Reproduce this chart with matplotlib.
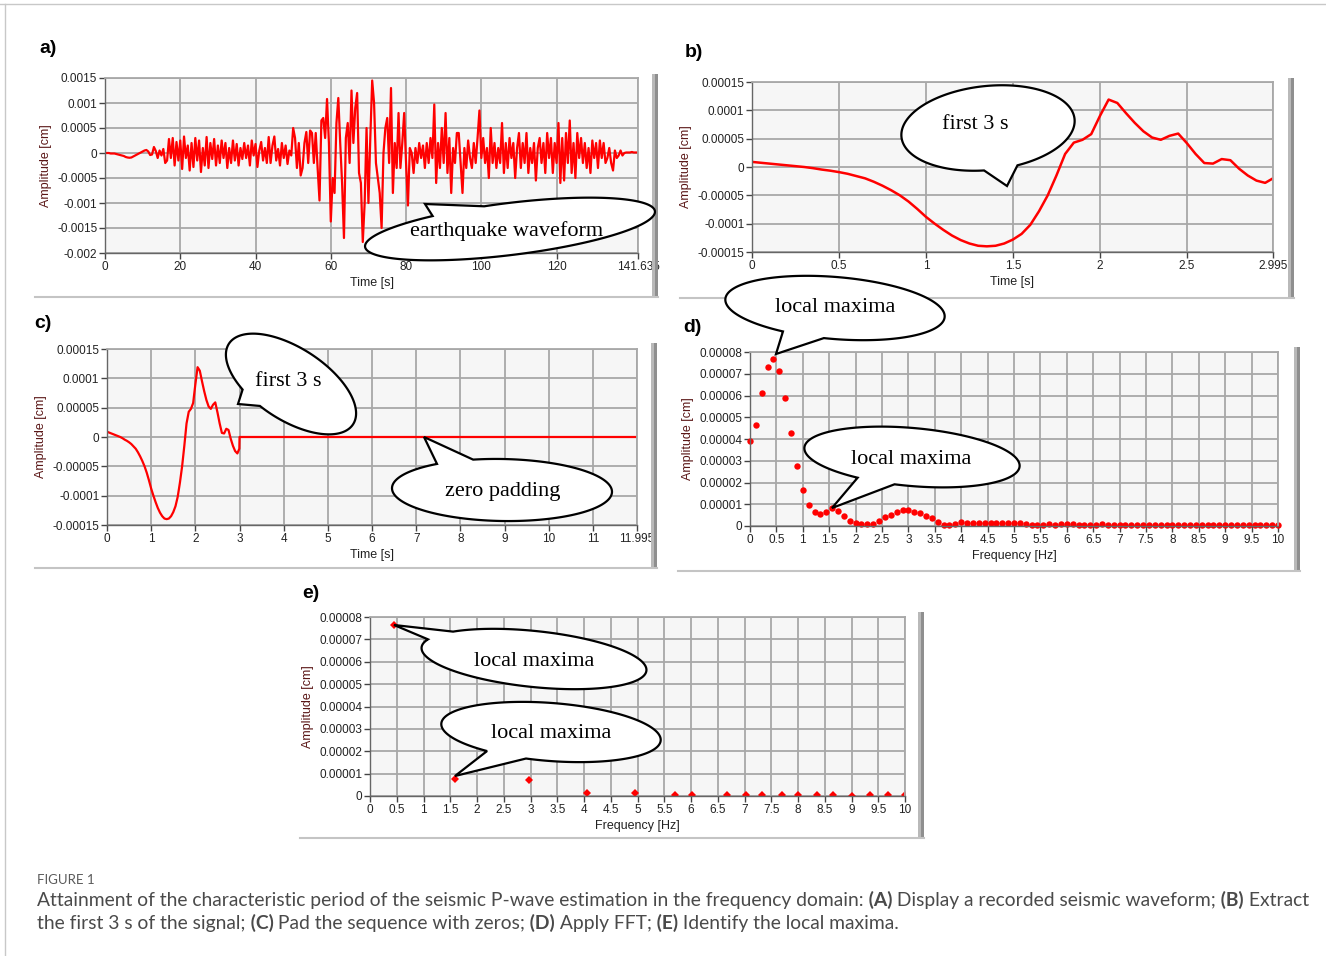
import numpy as np
import matplotlib
matplotlib.use("Agg")
import matplotlib.pyplot as plt
from matplotlib.patches import Polygon, Rectangle

W, H = 1326, 956

# ---- data ----
# a) recorded waveform, one value every 0.5 s, in 1e-4 cm
a_dt = 0.5
a_tmax = 141.635
a_amp = [
    0, 0, 0, -0.1, -0.1, -0.1, -0.2, -0.3, -0.4, -0.5,
    -0.6, -0.8, -0.9, -0.95, -0.9, -0.7, -0.5, -0.3, -0.1, 0.1,
    0.3, 0.5, 0.6, 0.3, -0.4, -0.3, 1.2, 0.4, -1.0, 0.5,
    -0.5, 0.8, -2.0, -1.5, 2.8, -1.0, 3.0, -2.5, 2.2, -1.5,
    2.5, -3.2, 3.3, -1.0, 1.5, -3.5, 2.0, -2.8, 3.0, -1.5,
    2.5, -3.8, 1.0, -2.5, 3.2, -3.0, 2.0, -1.2, 2.8, -2.5,
    1.5, -2.0, 2.5, -1.0, 2.0, -3.0, 1.0, -2.0, 2.5, -1.5,
    1.8, -2.5, 1.0, -1.2, 2.0, -1.0, 1.5, -2.5, 2.5, -0.5,
    1.8, -2.8, 0.5, 2.2, -1.5, 1.0, -2.0, 3.2, -2.0, 1.5,
    3.3, -1.5, 0.8, -2.5, 2.0, -1.0, 1.5, -2.2, 0.5, -0.5,
    5.0, 3.0, -3.0, 2.0, -4.5, -3.0, 2.0, 4.2, -2.0, 4.5,
    4.0, -2.0, 4.0, -3.0, -9.5, 6.5, 7.0, 3.0, 10.8, 2.0,
    -13.7, -5.0, -8.0, 6.0, 11.0, 2.0, -6.0, -17.0, 3.0, 6.0,
    -2.0, 12.5, 2.0, 9.0, 12.0, -4.0, -6.0, -17.8, -10.0, 5.0,
    -10.0, 3.0, 14.5, 10.0, -2.0, -5.0, -8.0, -15.0, 0.0, 5.0,
    7.0, -2.0, 13.0, -8.0, 2.0, -3.0, 8.0, -3.0, 2.0, 8.0,
    -2.0, -10.5, 1.0, 0.0, -4.0, 1.0, -2.0, 2.0, -1.0, 1.5,
    -3.0, 2.0, -2.0, 3.0, -1.0, 9.7, -6.0, 2.0, -3.0, 5.0,
    -2.0, 8.0, -4.0, 3.0, -8.0, 1.0, -2.0, 4.0, 4.0, -2.0,
    -8.0, 1.0, -3.0, 2.5, -1.0, -3.0, 2.0, -2.0, 3.0, 8.5,
    -1.0, 3.0, -2.0, 1.0, -5.0, 5.0, -2.0, 2.0, -3.0, 1.0,
    -2.0, 6.0, -4.0, 2.0, -3.0, 3.0, -1.0, 2.0, -5.0, 1.0,
    4.0, -3.0, 2.0, -2.0, 4.0, -4.0, 1.0, -2.0, 2.0, -5.5,
    1.0, 3.0, -2.0, 2.0, -4.0, 4.0, -1.0, 3.0, -4.0, 2.0,
    -2.0, 6.0, -6.0, 3.0, -5.5, 4.0, -2.0, 6.5, -4.0, 2.0,
    -5.0, 4.0, -1.0, 3.0, -2.0, 2.0, -3.0, 1.0, -4.0, 2.5,
    -1.0, 2.0, -3.0, 2.5, -1.0, 2.0, -2.0, -1.0, 1.0, -2.0,
    -3.5, 0.5, -1.0, -0.5, 0.5, -0.5, 0.0, 0.1, 0.1, 0.1,
    0.2, 0.1, 0.1, 0.1,
]
a_xticks = [0, 20, 40, 60, 80, 100, 120, 141.635]
a_xlabels = ['0', '20', '40', '60', '80', '100', '120', '141.635']
a_yticks = [0.0015, 0.001, 0.0005, 0, -0.0005, -0.001, -0.0015, -0.002]
a_ylabels = ['0.0015', '0.001', '0.0005', '0', '-0.0005', '-0.001', '-0.0015', '-0.002']

# b) first 3 s, in 1e-5 cm
b_time = [0.00, 0.05, 0.10, 0.15, 0.20, 0.25, 0.30, 0.35, 0.40, 0.45,
          0.50, 0.55, 0.60, 0.65, 0.70, 0.75, 0.80, 0.85, 0.90, 0.95,
          1.00, 1.05, 1.10, 1.15, 1.20, 1.25, 1.30, 1.35, 1.40, 1.45,
          1.50, 1.55, 1.60, 1.65, 1.70, 1.75, 1.80, 1.85, 1.90, 1.95,
          2.00, 2.05, 2.10, 2.15, 2.20, 2.25, 2.30, 2.35, 2.40, 2.45,
          2.50, 2.55, 2.60, 2.65, 2.70, 2.75, 2.80, 2.85, 2.90, 2.95, 2.995]
b_amp = [0.9, 0.75, 0.6, 0.45, 0.3, 0.15, 0.0, -0.2, -0.45, -0.65,
         -0.9, -1.2, -1.6, -2.0, -2.6, -3.3, -4.1, -5.0, -6.1, -7.4,
         -8.8, -10.0, -11.1, -12.1, -12.9, -13.5, -13.9, -14.0, -13.9, -13.5,
         -12.8, -11.8, -10.2, -7.8, -5.0, -1.5, 2.3, 4.3, 4.8, 5.8,
         9.0, 11.9, 11.3, 9.5, 7.8, 6.3, 5.2, 4.8, 5.5, 5.9,
         4.2, 2.3, 0.7, 0.6, 1.4, 1.2, -0.3, -1.5, -2.4, -2.8, -2.0]
b_xticks = [0, 0.5, 1, 1.5, 2, 2.5, 2.995]
b_xlabels = ['0', '0.5', '1', '1.5', '2', '2.5', '2.995']
bc_yticks = [0.00015, 0.0001, 0.00005, 0, -0.00005, -0.0001, -0.00015]
bc_ylabels = ['0.00015', '0.0001', '0.00005', '0', '-0.00005', '-0.0001', '-0.00015']

# c) zero padding after the first 3 s
c_pad_time = [3.0, 11.995]
c_pad_amp = [0.0, 0.0]
c_xticks = [0, 1, 2, 3, 4, 5, 6, 7, 8, 9, 10, 11, 11.995]
c_xlabels = ['0', '1', '2', '3', '4', '5', '6', '7', '8', '9', '10', '11', '11.995']

# d) FFT amplitude spectrum, in 1e-5 cm, bins of 1/9 Hz
d_df = 1 / 9
d_amp = [3.9, 4.63, 6.1, 7.31, 7.68, 7.13, 5.89, 4.27, 2.77, 1.65,
         0.98, 0.66, 0.55, 0.66, 0.81, 0.70, 0.47, 0.23, 0.12, 0.09,
         0.09, 0.10, 0.23, 0.43, 0.52, 0.64, 0.73, 0.75, 0.66, 0.60,
         0.47, 0.35, 0.17, 0.06, 0.06, 0.09, 0.17, 0.14, 0.13, 0.13,
         0.12, 0.12, 0.13, 0.15, 0.16, 0.16, 0.12, 0.07, 0.05, 0.05,
         0.06, 0.08, 0.06, 0.07, 0.09, 0.07, 0.05, 0.05, 0.05, 0.06,
         0.08, 0.06, 0.05, 0.05, 0.04, 0.04, 0.05, 0.04, 0.04, 0.05,
         0.05, 0.04, 0.05, 0.04, 0.04, 0.05, 0.04, 0.04, 0.05, 0.03,
         0.03, 0.03, 0.03, 0.04, 0.04, 0.03, 0.03, 0.04, 0.03, 0.03, 0.03]
de_xticks = [0, 0.5, 1, 1.5, 2, 2.5, 3, 3.5, 4, 4.5, 5, 5.5, 6, 6.5, 7, 7.5,
             8, 8.5, 9, 9.5, 10]
de_xlabels = ['0', '0.5', '1', '1.5', '2', '2.5', '3', '3.5', '4', '4.5', '5',
              '5.5', '6', '6.5', '7', '7.5', '8', '8.5', '9', '9.5', '10']
de_yticks = [0.00008, 0.00007, 0.00006, 0.00005, 0.00004, 0.00003, 0.00002, 0.00001, 0]
de_ylabels = ['0.00008', '0.00007', '0.00006', '0.00005', '0.00004', '0.00003',
              '0.00002', '0.00001', '0']

# e) local maxima, in 1e-5 cm
e_freq = [0.45, 1.58, 2.97, 4.05, 4.95, 5.7, 6.02, 6.68, 7.02, 7.32, 7.7, 8.0,
          8.35, 8.65, 9.0, 9.35, 9.68, 10.0]
e_amp = [7.65, 0.75, 0.70, 0.15, 0.15, 0.06, 0.06, 0.06, 0.03, 0.03, 0.03,
         0.03, 0.03, 0.03, 0.02, 0.03, 0.03, 0.03]

RED = '#ff0000'
plt.rcParams['font.family'] = ['Liberation Sans Narrow', 'Liberation Sans', 'DejaVu Sans']
SERIF = ['Liberation Serif', 'DejaVu Serif']
CAP = ['Lato', 'Open Sans', 'DejaVu Sans']

fig = plt.figure(figsize=(W / 100, H / 100), dpi=100)
fig.patch.set_facecolor('white')


def px_axes(left, top, right, bottom):
    return fig.add_axes([left / W, 1 - bottom / H, (right - left) / W, (bottom - top) / H])


def style(ax, xt, xl, yt, yl, xlabel):
    ax.set_facecolor('#f6f6f6')
    ax.set_xticks(xt)
    ax.set_xticklabels(xl)
    ax.set_yticks(yt)
    ax.set_yticklabels(yl)
    ax.grid(True, color='#a8a8a8', lw=1.3)
    ax.set_axisbelow(True)
    for s in ['top', 'right']:
        ax.spines[s].set_color('#a8a8a8')
        ax.spines[s].set_linewidth(1.3)
    for s in ['left', 'bottom']:
        ax.spines[s].set_color('#666666')
        ax.spines[s].set_linewidth(1.0)
    ax.tick_params(length=4, width=1, color='#444444', labelcolor='#222222',
                   labelsize=8.5, pad=1.5)
    ax.set_xlabel(xlabel, fontsize=9, color='#222222', labelpad=3)
    ax.set_ylabel('Amplitude [cm]', fontsize=9, color='#5a1616', labelpad=4)


# a)
ax_a = px_axes(105, 78, 638, 253)
a_time = np.arange(len(a_amp)) * a_dt
ax_a.plot(a_time, np.array(a_amp) * 1e-4, color=RED, lw=1.6)
ax_a.set_xlim(0, a_tmax)
ax_a.set_ylim(-0.002, 0.0015)
style(ax_a, a_xticks, a_xlabels, a_yticks, a_ylabels, 'Time [s]')

# b)
ax_b = px_axes(752, 82, 1273, 252)
ax_b.plot(b_time, np.array(b_amp) * 1e-5, color=RED, lw=1.8)
ax_b.set_xlim(0, 2.995)
ax_b.set_ylim(-0.00015, 0.00015)
style(ax_b, b_xticks, b_xlabels, bc_yticks, bc_ylabels, 'Time [s]')

# c)
ax_c = px_axes(107, 349, 637, 525)
c_time = list(b_time) + c_pad_time
c_amp = list(b_amp) + c_pad_amp
ax_c.plot(c_time, np.array(c_amp) * 1e-5, color=RED, lw=1.6)
ax_c.set_xlim(0, 11.995)
ax_c.set_ylim(-0.00015, 0.00015)
style(ax_c, c_xticks, c_xlabels, bc_yticks, bc_ylabels, 'Time [s]')

# d)
ax_d = px_axes(750, 352, 1278, 526)
d_freq = np.arange(len(d_amp)) * d_df
ax_d.plot(d_freq, np.array(d_amp) * 1e-5, 'o', color=RED, ms=4.6, mew=0, clip_on=False)
ax_d.set_xlim(0, 10)
ax_d.set_ylim(0, 0.00008)
style(ax_d, de_xticks, de_xlabels, de_yticks, de_ylabels, 'Frequency [Hz]')

# e)
ax_e = px_axes(370, 617, 905, 796)
ax_e.plot(e_freq, np.array(e_amp) * 1e-5, 'D', color=RED, ms=4.2, mew=0)
ax_e.set_xlim(0, 10)
ax_e.set_ylim(0, 0.00008)
style(ax_e, de_xticks, de_xlabels, de_yticks, de_ylabels, 'Frequency [Hz]')

# overlay in pixel coordinates for frames, bubbles and labels
ov = fig.add_axes([0, 0, 1, 1], zorder=10)
ov.set_xlim(0, W)
ov.set_ylim(H, 0)
ov.axis('off')

# page frame
ov.plot([0, W], [4, 4], color='#c8c8c8', lw=1)
ov.plot([5, 5], [4, H], color='#c8c8c8', lw=1)

# grey side bars and bottom rules of each panel
for x0, y0, y1, bx0 in [(652, 74, 297, 35), (1288, 78, 298, 680), (651, 343, 568, 35),
                        (1294, 347, 571, 678), (918, 612, 838, 300)]:
    ov.add_patch(Rectangle((x0, y0), 3, y1 - y0, fc='#b9b9b9', ec='none'))
    ov.add_patch(Rectangle((x0 + 3, y0), 3, y1 - y0, fc='#8f8f8f', ec='none'))
    ov.plot([bx0, x0 + 6], [y1, y1], color='#c4c4c4', lw=1.5)


def bubble(cx, cy, a, b, ang, tip, base1, base2, text, tx=None, ty=None, fs=16):
    th = np.deg2rad(ang)
    t = np.linspace(0, 2 * np.pi, 721)[:-1]
    ex = cx + a * np.cos(t) * np.cos(th) - b * np.sin(t) * np.sin(th)
    ey = cy + a * np.cos(t) * np.sin(th) + b * np.sin(t) * np.cos(th)
    n = len(t)
    i1 = int(np.argmin(np.hypot(ex - base1[0], ey - base1[1])))
    i2 = int(np.argmin(np.hypot(ex - base2[0], ey - base2[1])))
    if (i2 - i1) % n < n / 2:
        idx = [(i2 + k) % n for k in range((i1 - i2) % n + 1)]
    else:
        idx = [(i1 + k) % n for k in range((i2 - i1) % n + 1)]
    pts = [tip] + list(zip(ex[idx], ey[idx]))
    ov.add_patch(Polygon(pts, closed=True, fc='white', ec='black', lw=1.6, zorder=5))
    ov.text(cx if tx is None else tx, cy if ty is None else ty, text, ha='center',
            va='center', family=SERIF, fontsize=fs, zorder=6)


bubble(510, 229, 146, 26, -7, (425, 204), (433, 219), (484, 206), 'earthquake waveform',
       tx=507, ty=231)
bubble(988, 128, 87, 42, -6, (1007, 186), (984, 171), (1017, 163), 'first 3 s',
       tx=975, ty=124)
bubble(835, 308, 110, 31, 4.7, (776, 354), (784, 326), (824, 335), 'local maxima')
bubble(912, 457, 108, 29, 5, (832, 508), (858, 475), (895, 482), 'local maxima',
       tx=911, ty=459)
bubble(291, 384, 74, 36, 33, (238, 404), (242, 390), (258, 408), 'first 3 s',
       tx=288, ty=381)
bubble(502, 490, 110, 31, 1, (424, 437), (436, 460), (473, 457), 'zero padding',
       tx=503, ty=491)
bubble(534, 659, 113, 28, 5.9, (394, 625), (453, 633), (429, 641), 'local maxima',
       tx=534, ty=661)
bubble(551, 732, 110, 29, 4.4, (455, 776), (488, 747), (526, 756), 'local maxima',
       tx=551, ty=733)

# panel letters
for lab, x, y in [('a)', 39, 48), ('b)', 685, 52), ('c)', 34, 323), ('d)', 683, 328),
                  ('e)', 302, 594)]:
    ov.text(x, y, lab, fontsize=14, fontweight='bold', va='center', ha='left',
            family=['Liberation Sans', 'DejaVu Sans'])

# caption
ov.text(37, 880, 'FIGURE 1', fontsize=9.5, color='#5a5a5a', va='center', family=CAP)


def caption_line(y, pieces):
    prev = None
    for txt, bold in pieces:
        kw = dict(fontsize=13.9, color='#4a4a4a', family=CAP,
                  fontweight='bold' if bold else 'normal')
        if prev is None:
            prev = ov.text(37, y, txt, va='bottom', ha='left', **kw)
        else:
            prev = ov.annotate(txt, xy=(1, 0), xycoords=prev, va='bottom', ha='left', **kw)


caption_line(909, [('Attainment of the characteristic period of the seismic P-wave estimation'
                    ' in the frequency domain:', False), (' (A)', True),
                   (' Display a recorded seismic waveform;', False), (' (B)', True),
                   (' Extract', False)])
caption_line(932, [('the first 3 s of the signal;', False), (' (C)', True),
                   (' Pad the sequence with zeros;', False), (' (D)', True),
                   (' Apply FFT;', False), (' (E)', True),
                   (' Identify the local maxima.', False)])

fig.savefig('out.png', dpi=100)
